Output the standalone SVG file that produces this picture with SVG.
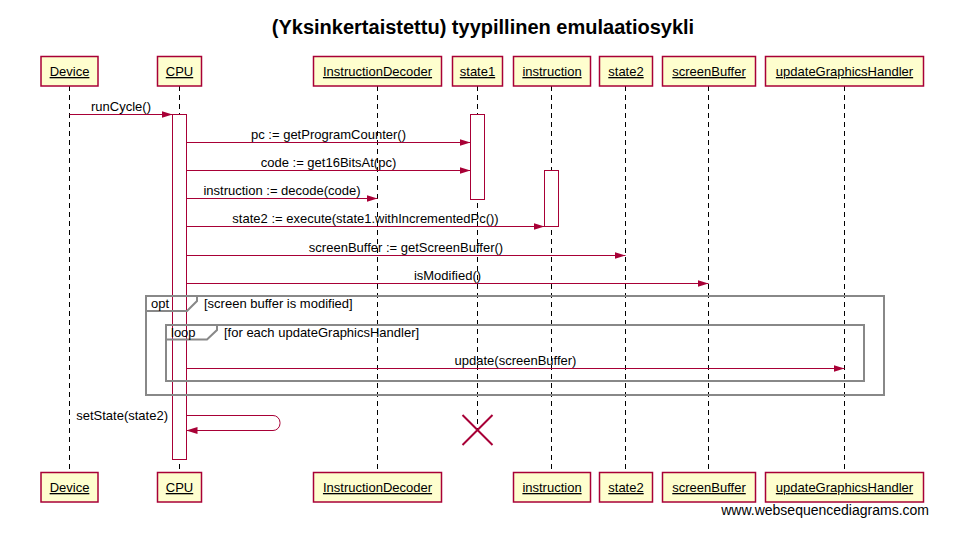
<svg xmlns="http://www.w3.org/2000/svg" width="977" height="545" viewBox="0 0 977 545">
<defs>
<style>
text{font-family:"Liberation Sans",Arial,sans-serif;font-size:13px;fill:#000}
.title{font-size:20px;font-weight:bold}
.footer{font-size:14px}
.pbox{fill:#FEFECE;stroke:#A80036;stroke-width:1.5}
.plabel{text-anchor:middle;text-decoration:underline}
.life{stroke:#000;stroke-width:1;stroke-dasharray:5,4}
.act{fill:#fff;stroke:#A80036;stroke-width:1}
.msg{stroke:#A80036;stroke-width:1;fill:none}
.mlabel{text-anchor:middle}
.frame{fill:none;stroke:#888;stroke-width:2}
</style>
<marker id="ah" markerWidth="11" markerHeight="8" refX="11" refY="4" orient="auto" markerUnits="userSpaceOnUse">
<path d="M0,0.5 L11,4 L0,7.5 Z" fill="#A80036"/>
</marker>
</defs>
<rect width="977" height="545" fill="#fff"/>
<text class="title" x="483" y="34" text-anchor="middle">(Yksinkertaistettu) tyypillinen emulaatiosykli</text>

<g id="lifelines">
<line class="life" x1="69.5" y1="86" x2="69.5" y2="472"/>
<line class="life" x1="179.5" y1="86" x2="179.5" y2="472"/>
<line class="life" x1="377.5" y1="86" x2="377.5" y2="472"/>
<line class="life" x1="477.5" y1="86" x2="477.5" y2="430"/>
<line class="life" x1="551.5" y1="86" x2="551.5" y2="472"/>
<line class="life" x1="625.5" y1="86" x2="625.5" y2="472"/>
<line class="life" x1="708.5" y1="86" x2="708.5" y2="472"/>
<line class="life" x1="844.5" y1="86" x2="844.5" y2="472"/>
</g>

<g id="activations">
<rect class="act" x="172.5" y="114.5" width="14" height="345"/>
<rect class="act" x="470.5" y="114.5" width="14" height="85"/>
<rect class="act" x="544.5" y="170.5" width="14" height="56"/>
</g>

<g id="frames">
<g id="opt">
<rect class="frame" x="146" y="296" width="738" height="99"/>
<path class="frame" d="M146,311 H187 L197,301 V296"/>
<text x="151" y="308">opt</text>
<text x="204" y="308">[screen buffer is modified]</text>
</g>
<g id="loop">
<rect class="frame" x="166" y="325" width="698" height="56"/>
<path class="frame" d="M166,339.5 H207 L217,330 V325"/>
<text x="171" y="337">loop</text>
<text x="224" y="337">[for each updateGraphicsHandler]</text>
</g>
</g>

<g id="connectors">
<line class="msg" x1="69.5" y1="114.5" x2="172.5" y2="114.5" marker-end="url(#ah)"/>
<text class="mlabel" x="121" y="110.5">runCycle()</text>
<line class="msg" x1="186.5" y1="142.5" x2="470.5" y2="142.5" marker-end="url(#ah)"/>
<text class="mlabel" x="328.5" y="138.5">pc := getProgramCounter()</text>
<line class="msg" x1="186.5" y1="170.5" x2="470.5" y2="170.5" marker-end="url(#ah)"/>
<text class="mlabel" x="328.5" y="166.5">code := get16BitsAt(pc)</text>
<line class="msg" x1="186.5" y1="198.5" x2="377.5" y2="198.5" marker-end="url(#ah)"/>
<text class="mlabel" x="282" y="194.5">instruction := decode(code)</text>
<line class="msg" x1="186.5" y1="226.5" x2="544.5" y2="226.5" marker-end="url(#ah)"/>
<text class="mlabel" x="365.5" y="222.5">state2 := execute(state1.withIncrementedPc())</text>
<line class="msg" x1="186.5" y1="255.5" x2="625.5" y2="255.5" marker-end="url(#ah)"/>
<text class="mlabel" x="406" y="251.5">screenBuffer := getScreenBuffer()</text>
<line class="msg" x1="186.5" y1="283.5" x2="708.5" y2="283.5" marker-end="url(#ah)"/>
<text class="mlabel" x="447.5" y="279.5">isModified()</text>
<line class="msg" x1="186.5" y1="368.5" x2="844.5" y2="368.5" marker-end="url(#ah)"/>
<text class="mlabel" x="515.5" y="364.5">update(screenBuffer)</text>
<path class="msg" d="M186.5,415.5 H273 A7,7 0 0 1 280,422.5 V423.5 A7,7 0 0 1 273,430.5 H186.5" marker-end="url(#ah)"/>
<text x="168" y="420" text-anchor="end">setState(state2)</text>
</g>

<g id="destroy">
<line x1="462.5" y1="415" x2="492.5" y2="445" stroke="#A80036" stroke-width="2"/>
<line x1="492.5" y1="415" x2="462.5" y2="445" stroke="#A80036" stroke-width="2"/>
</g>

<g id="node-Device"><rect class="pbox" x="41" y="56.5" width="57" height="29.5"/><text class="plabel" x="69.5" y="76">Device</text></g>
<g id="node-CPU"><rect class="pbox" x="157.5" y="56.5" width="44" height="29.5"/><text class="plabel" x="179.5" y="76">CPU</text></g>
<g id="node-InstructionDecoder"><rect class="pbox" x="313.5" y="56.5" width="128" height="29.5"/><text class="plabel" x="377.5" y="76">InstructionDecoder</text></g>
<g id="node-state1"><rect class="pbox" x="452.5" y="56.5" width="50" height="29.5"/><text class="plabel" x="477.5" y="76">state1</text></g>
<g id="node-instruction"><rect class="pbox" x="513.5" y="56.5" width="77" height="29.5"/><text class="plabel" x="552" y="76">instruction</text></g>
<g id="node-state2"><rect class="pbox" x="599.5" y="56.5" width="53" height="29.5"/><text class="plabel" x="626" y="76">state2</text></g>
<g id="node-screenBuffer"><rect class="pbox" x="662.5" y="56.5" width="93" height="29.5"/><text class="plabel" x="709" y="76">screenBuffer</text></g>
<g id="node-updateGraphicsHandler"><rect class="pbox" x="765.5" y="56.5" width="158" height="29.5"/><text class="plabel" x="844.5" y="76">updateGraphicsHandler</text></g>

<g id="node-Device-bottom"><rect class="pbox" x="41" y="472.5" width="57" height="29.5"/><text class="plabel" x="69.5" y="492">Device</text></g>
<g id="node-CPU-bottom"><rect class="pbox" x="157.5" y="472.5" width="44" height="29.5"/><text class="plabel" x="179.5" y="492">CPU</text></g>
<g id="node-InstructionDecoder-bottom"><rect class="pbox" x="313.5" y="472.5" width="128" height="29.5"/><text class="plabel" x="377.5" y="492">InstructionDecoder</text></g>
<g id="node-instruction-bottom"><rect class="pbox" x="513.5" y="472.5" width="77" height="29.5"/><text class="plabel" x="552" y="492">instruction</text></g>
<g id="node-state2-bottom"><rect class="pbox" x="599.5" y="472.5" width="53" height="29.5"/><text class="plabel" x="626" y="492">state2</text></g>
<g id="node-screenBuffer-bottom"><rect class="pbox" x="662.5" y="472.5" width="93" height="29.5"/><text class="plabel" x="709" y="492">screenBuffer</text></g>
<g id="node-updateGraphicsHandler-bottom"><rect class="pbox" x="765.5" y="472.5" width="158" height="29.5"/><text class="plabel" x="844.5" y="492">updateGraphicsHandler</text></g>

<text class="footer" x="929" y="515" text-anchor="end">www.websequencediagrams.com</text>
</svg>
